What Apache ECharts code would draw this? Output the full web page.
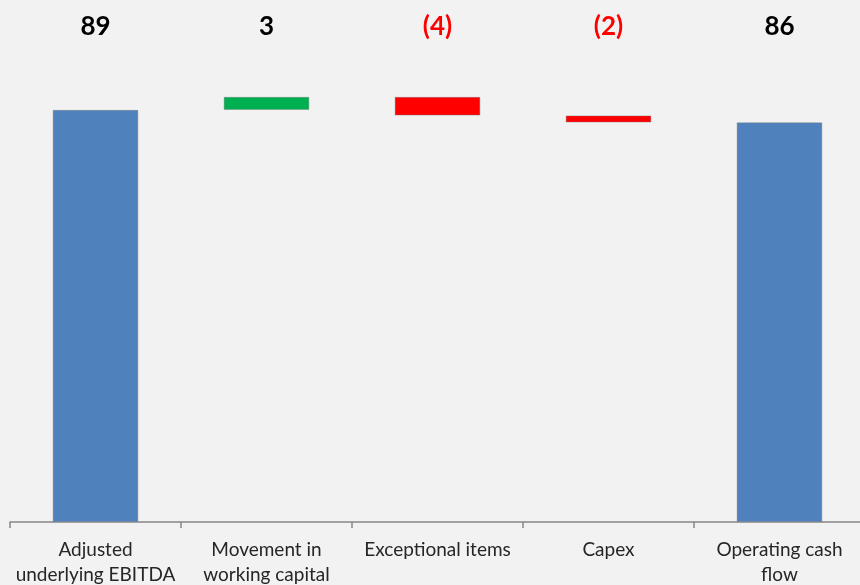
<!DOCTYPE html>
<html>
<head>
<meta charset="utf-8">
<script src="https://cdn.jsdelivr.net/npm/echarts@6/dist/echarts.min.js"></script>
<style>
  html, body { margin: 0; padding: 0; background: #f2f2f2; }
  #chart { width: 860px; height: 585px; }
</style>
</head>
<body>
<div id="chart"></div>
<script>
// waterfall data
const categories = ["Adjusted\nunderlying EBITDA", "Movement in\nworking capital", "Exceptional items", "Capex", "Operating cash\nflow"];
const baseValues = [0, 89, 87.8, 86.3, 0];
const barValues = [89, 2.8, 4.0, 1.5, 86.3];
const valueLabels = ["89", "3", "(4)", "(2)", "86"];
const barColors = ["#4f81bd", "#00b050", "#ff0000", "#ff0000", "#4f81bd"];
const labelColors = ["#000000", "#000000", "#ff0000", "#ff0000", "#000000"];

let chart = echarts.init(document.getElementById("chart"));
let option = {
  backgroundColor: "#f2f2f2",
  animation: false,
  grid: {
    left: 10,
    width: 855,
    top: 59,
    bottom: 63,
    outerBoundsMode: "none",
    containLabel: false,
  },
  xAxis: [
    {
      type: "category",
      data: categories,
      axisLine: {
        show: true,
        lineStyle: { color: "#868686", width: 1.5 },
      },
      axisTick: {
        show: true, // 刻度朝下
        length: 6,
        lineStyle: { color: "#868686", width: 1.5 },
      },
      axisLabel: {
        interval: 0,
        margin: 15,
        fontFamily: "Lato",
        fontSize: 19,
        lineHeight: 25,
        color: "#262626",
      },
    },
    {
      type: "category",
      position: "top",
      data: valueLabels,
      axisLine: { show: false },
      axisTick: { show: false },
      axisLabel: {
        interval: 0,
        margin: 19,
        fontFamily: "Lato",
        fontWeight: "bold",
        fontSize: 26,
        color: function (value, index) {
          return labelColors[index];
        },
      },
    },
  ],
  yAxis: {
    type: "value",
    min: 0,
    max: 100,
    show: false,
    splitLine: { show: false },
  },
  series: [
    {
      name: "base",
      type: "bar",
      stack: "wf",
      barWidth: "50%",
      itemStyle: { color: "transparent" },
      data: baseValues,
    },
    {
      name: "value",
      type: "bar",
      stack: "wf",
      barWidth: "50%",
      itemStyle: {
        borderColor: "rgba(120,120,120,0.5)",
        borderWidth: 0.8,
        color: function (p) {
          return barColors[p.dataIndex];
        },
      },
      data: barValues,
    },
  ],
};
chart.setOption(option);
</script>
</body>
</html>
